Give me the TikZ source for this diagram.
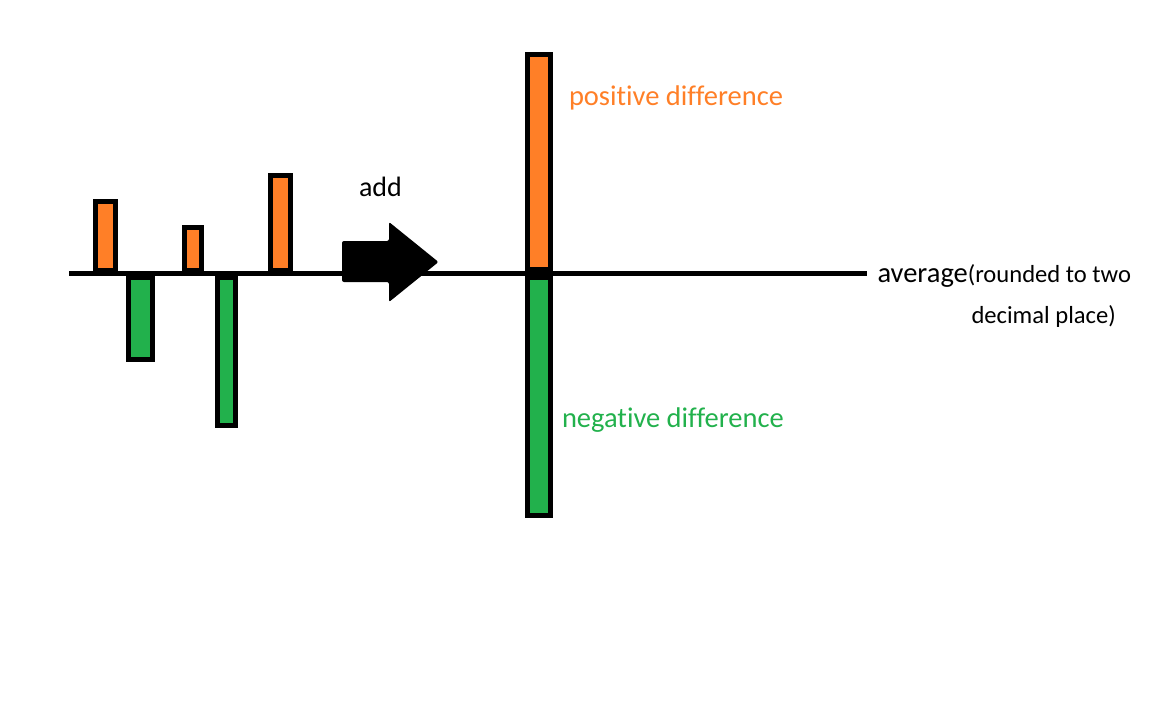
\documentclass[tikz,border=0pt]{standalone}
\usepackage{fontspec}
\setmainfont{Carlito}[Ligatures={NoCommon,TeX}]
\definecolor{porange}{HTML}{FF7F27}
\definecolor{pgreen}{HTML}{22B14C}
\tikzset{
  obar/.style={draw=black, fill=porange, line width=5pt},
  gbar/.style={draw=black, fill=pgreen, line width=5pt},
  axisline/.style={draw=black, line width=4.5pt},
  lbl/.style={anchor=base west, inner sep=0pt, outer sep=0pt},
}
\begin{document}
\begin{tikzpicture}[x=1pt, y=-1pt]
\useasboundingbox (0,0) rectangle (1152,720);
% axis
\coordinate (ls) at (69,273.5);
\coordinate (le) at (867,273.5);
\draw[axisline] (ls) -- (le);
% small bars
\draw[obar] (95.5,201.5) rectangle (115.5,270.5);
\draw[gbar] (128.5,277.5) rectangle (152.5,359.5);
\draw[obar] (184.5,227.5) rectangle (201.5,270.5);
\draw[gbar] (217.5,277.5) rectangle (235.5,425.5);
\draw[obar] (270.5,175.5) rectangle (290.5,270.5);
% arrow
\fill[black, rounded corners=2pt] (342,241) -- (389,241) -- (389,222) -- (438.5,262) -- (389,302) -- (389,282) -- (342,282) -- cycle;
\node[lbl, font=\fontsize{28}{32}\selectfont] (add) at (359,196) {add};
% big bars
\draw[obar] (527.5,54.5) rectangle (550.2,269.5);
\draw[gbar] (527.5,277.5) rectangle (550.2,515);
% labels
\node[lbl, text=porange, font=\fontsize{28.5}{32}\selectfont] (pos) at (569,105) {positive difference};
\node[lbl, text=pgreen, font=\fontsize{28.5}{32}\selectfont] (neg) at (562,427.5) {negative difference};
\node[lbl, font=\fontsize{28.5}{32}\selectfont] (avg) at (877.5,282) {average\fontsize{24.6}{28}\selectfont(rounded to two};
\node[lbl, font=\fontsize{24.6}{28}\selectfont] (dec) at (971.5,323) {decimal place)};
\end{tikzpicture}
\end{document}
